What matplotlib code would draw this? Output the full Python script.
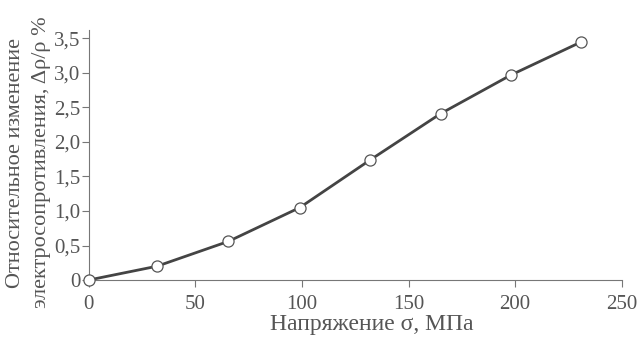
"""
Relative change of electrical resistivity vs. applied stress
"""

import matplotlib.pyplot as plt

stress = [0, 32, 65.5, 99, 132, 165, 198, 231]
resist_change = [0.0, 0.20, 0.56, 1.05, 1.74, 2.41, 2.97, 3.45]

x_ticks = [0, 50, 100, 150, 200, 250]
y_ticks = [0, 0.5, 1.0, 1.5, 2.0, 2.5, 3.0, 3.5]
y_tick_labels = ['0', '0,5', '1,0', '1,5', '2,0', '2,5', '3,0', '3,5']

text_color = '#555555'
plt.rcParams['font.family'] = ['Liberation Serif', 'DejaVu Serif']


def main():
    fig = plt.figure(figsize=(6.39, 3.39), dpi=100)
    ax = fig.add_axes([0.139, 0.174, 0.834, 0.737])

    ax.plot(stress, resist_change, color='#444444', linewidth=2.0,
            marker='o', markersize=8, markerfacecolor='white',
            markeredgecolor='#555555', markeredgewidth=0.9, clip_on=False, zorder=3)

    ax.set_xlim(0, 250)
    ax.set_ylim(0, 3.62)
    ax.set_xticks(x_ticks)
    ax.set_yticks(y_ticks)
    ax.set_yticklabels(y_tick_labels)

    for side in ('top', 'right'):
        ax.spines[side].set_visible(False)
    for side in ('left', 'bottom'):
        ax.spines[side].set_color('#777777')
        ax.spines[side].set_linewidth(0.8)

    ax.tick_params(colors='#777777', labelcolor=text_color, labelsize=15,
                   length=5, width=0.8, direction='out')
    ax.tick_params(axis='x', pad=6)
    ax.tick_params(axis='y', pad=1)

    ax.set_xlabel('Напряжение σ, МПа', fontsize=17, color=text_color,
                  labelpad=0, x=0.53)
    ax.set_ylabel('Относительное изменение\nэлектросопротивления, Δρ/ρ %',
                  fontsize=16, color=text_color, labelpad=2, linespacing=1.5, y=0.47)

    fig.savefig('out.png', dpi=100)


if __name__ == '__main__':
    main()
